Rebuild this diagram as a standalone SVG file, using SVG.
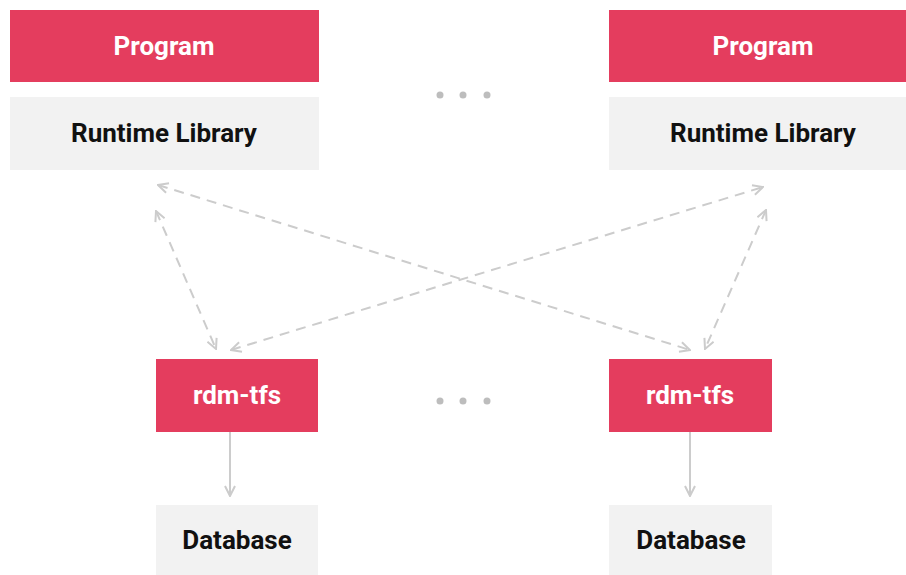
<svg xmlns="http://www.w3.org/2000/svg" width="906" height="575" viewBox="0 0 906 575">
<defs>
<style>
.red{fill:#E43D5E}
.gray{fill:#F2F2F2}
.t{font-family:Roboto,"Liberation Sans",sans-serif;font-weight:bold;font-size:26px;text-anchor:middle}
.w{fill:#FFFFFF}
.k{fill:#111111}
.dash{stroke:#CCCCCC;stroke-width:2;fill:none;stroke-dasharray:10 7;marker-start:url(#ah);marker-end:url(#ah)}
.solid{stroke:#CCCCCC;stroke-width:2;fill:none;marker-end:url(#ah)}
.dot{fill:#BDBDBD}
</style>
<marker id="ah" viewBox="0 0 12 12" refX="11" refY="6" markerWidth="12" markerHeight="12" markerUnits="userSpaceOnUse" orient="auto-start-reverse">
<path d="M1,1 L11,6 L1,11" fill="none" stroke="#CCCCCC" stroke-width="2"/>
</marker>
</defs>
<rect width="906" height="575" fill="#FFFFFF"/>
<g id="program1"><rect class="red" x="10" y="10" width="309" height="72"/><text class="t w" x="164" y="55">Program</text></g>
<g id="runtime1"><rect class="gray" x="10" y="97" width="309" height="73"/><text class="t k" x="164" y="142">Runtime Library</text></g>
<g id="program2"><rect class="red" x="609" y="10" width="309" height="72"/><text class="t w" x="763" y="55">Program</text></g>
<g id="runtime2"><rect class="gray" x="609" y="97" width="309" height="73"/><text class="t k" x="763" y="142">Runtime Library</text></g>
<g id="rdm1"><rect class="red" x="156" y="359" width="162" height="73"/><text class="t w" x="237" y="404">rdm-tfs</text></g>
<g id="rdm2"><rect class="red" x="609" y="359" width="163" height="73"/><text class="t w" x="690" y="404">rdm-tfs</text></g>
<g id="db1"><rect class="gray" x="156" y="505" width="162" height="70"/><text class="t k" x="237" y="549">Database</text></g>
<g id="db2"><rect class="gray" x="609" y="505" width="163" height="70"/><text class="t k" x="691" y="549">Database</text></g>
<g id="dots-top"><circle class="dot" cx="440" cy="95" r="3.5"/><circle class="dot" cx="463" cy="95" r="3.5"/><circle class="dot" cx="487" cy="95" r="3.5"/></g>
<g id="dots-bottom"><circle class="dot" cx="440" cy="401" r="3.5"/><circle class="dot" cx="463" cy="401" r="3.5"/><circle class="dot" cx="487" cy="401" r="3.5"/></g>
<g id="connectors">
<line class="dash" x1="158" y1="185" x2="690" y2="350"/>
<line class="dash" x1="156" y1="211" x2="216" y2="349"/>
<line class="dash" x1="231" y1="350" x2="763" y2="187"/>
<line class="dash" x1="766" y1="210" x2="705" y2="349"/>
<line class="solid" x1="230" y1="432" x2="230" y2="496"/>
<line class="solid" x1="690" y1="432" x2="690" y2="496"/>
</g>
</svg>
